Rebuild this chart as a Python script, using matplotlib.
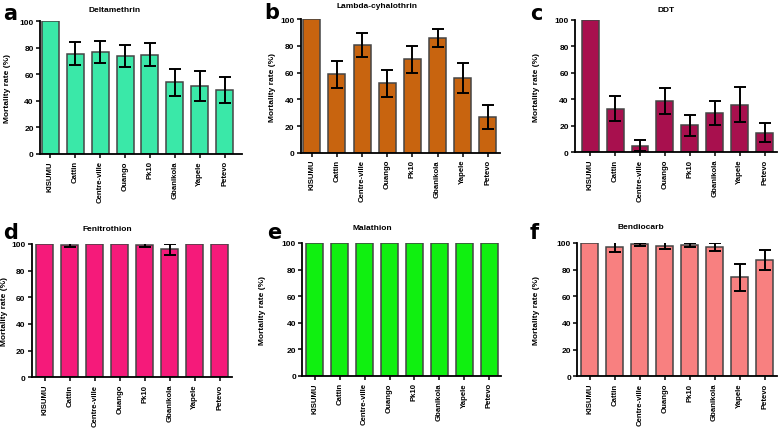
import numpy as np
import matplotlib.pyplot as plt

plt.rcParams['font.family'] = ['Liberation Sans', 'DejaVu Sans']

sites = ["KISUMU", "Cattin", "Centre-ville", "Ouango", "Pk10", "Gbanikola", "Yapele", "Petevo"]

delta = [100, 75.5, 77, 74, 74.8, 54, 51, 48]
delta_err = [0, 8.8, 8.2, 8.5, 8.7, 10, 11.3, 9.8]

lambda_c = [100, 58.7, 80.8, 52, 70, 86, 56, 27]
lambda_err = [0, 10.2, 9.1, 10, 10.1, 6.7, 11.2, 8.9]

ddt = [100, 32.8, 5, 38.7, 20.5, 29.9, 35.9, 14.8]
ddt_err = [0, 9.3, 4, 9.5, 8, 9, 13.3, 7]

fenit = [100, 99, 100, 100, 99, 96, 100, 100]
fenit_err = [0, 1.6, 0, 0, 1.6, 4, 0, 0]

malat = [100, 100, 100, 100, 100, 100, 100, 100]
malat_err = [0, 0, 0, 0, 0, 0, 0, 0]

bendio = [100, 96.7, 99, 98, 98.5, 97, 74.2, 87]
bendio_err = [0, 3.8, 1.3, 2.8, 1.8, 3, 10, 7.6]

W, H = 778, 431
fig = plt.figure(figsize=(W / 100, H / 100), dpi=100)


def box(x0, y0, x1, y1):
    # pixel box -> figure fraction
    return [x0 / W, 1 - y1 / H, (x1 - x0) / W, (y1 - y0) / H]


panels = [
    # letter, title, vals, errs, color, axes box, xlim, letter pos, title pos, ylabel x
    ("a", "Deltamethrin", delta, delta_err, "#3ae8a8", (40, 22.3, 242, 155), (-0.42, 7.7), (3, 14), (115, 10), 8),
    ("b", "Lambda-cyhalothrin", lambda_c, lambda_err, "#c8640f", (300.7, 20.3, 500, 153.7), (-0.44, 7.48), (264, 13), (377, 6), 272),
    ("c", "DDT", ddt, ddt_err, "#a8104e", (575, 20.7, 777, 153.3), (-0.61, 7.5), (530, 14), (666, 10), 536),
    ("d", "Fenitrothion", fenit, fenit_err, "#f51a7a", (31.7, 245, 232, 378.3), (-0.52, 7.49), (3, 233), (107, 230), 5),
    ("e", "Malathion", malat, malat_err, "#10f010", (302.3, 244, 500.7, 377), (-0.5, 7.46), (267, 233), (372, 229), 263),
    ("f", "Bendiocarb", bendio, bendio_err, "#f88080", (577.3, 244, 777, 377.3), (-0.5, 7.5), (530, 233), (641, 228), 536),
]

x = np.arange(len(sites))

for letter, title, vals, errs, color, bx, xl, lpos, tpos, ylx in panels:
    ax = fig.add_axes(box(*bx))
    yerr = np.array(errs, dtype=float)
    ax.bar(x, vals, width=0.68, color=color, edgecolor="#454545", linewidth=1.1, zorder=2)
    mask = yerr > 0
    ax.errorbar(x[mask], np.array(vals)[mask], yerr=yerr[mask], fmt="none",
                ecolor="black", elinewidth=1.4, capsize=4.5, capthick=1.4, zorder=3)
    ax.set_xlim(*xl)
    ax.set_ylim(0, 100)
    ax.set_yticks([0, 20, 40, 60, 80, 100])
    ax.set_xticks(x)
    ax.set_xticklabels(sites, rotation=90, fontsize=5.6, fontweight="bold")
    for lab in ax.get_yticklabels():
        lab.set_fontsize(6)
        lab.set_fontweight("bold")
    ax.tick_params(axis="both", length=3, width=1.1, pad=1.5)
    for s in ["top", "right"]:
        ax.spines[s].set_visible(False)
    for s in ["left", "bottom"]:
        ax.spines[s].set_linewidth(1.3)
    fig.text(lpos[0] / W, 1 - lpos[1] / H, letter, fontsize=15, fontweight="bold",
             ha="left", va="center", family=["DejaVu Sans"])
    fig.text(tpos[0] / W, 1 - tpos[1] / H, title, fontsize=6, fontweight="bold",
             ha="center", va="center")
    ymid = (bx[1] + bx[3]) / 2
    fig.text(ylx / W, 1 - ymid / H, "Mortality rate (%)", fontsize=6, fontweight="bold",
             rotation=90, ha="center", va="center")

fig.savefig("out.png", dpi=100)
